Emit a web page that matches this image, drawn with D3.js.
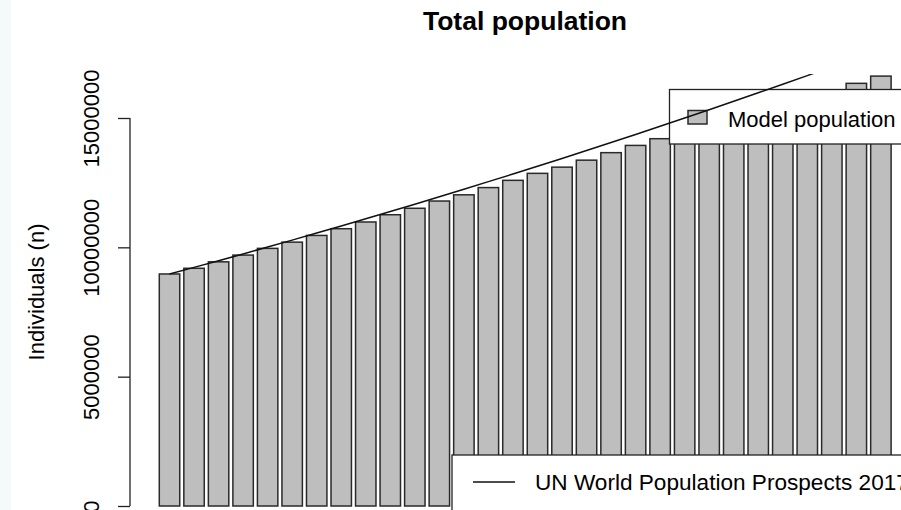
<!DOCTYPE html>
<html>
<head>
<meta charset="utf-8">
<script src="https://cdn.jsdelivr.net/npm/d3@7"></script>
<style>
  html, body { margin: 0; padding: 0; background: #ffffff; }
  svg { display: block; font-family: "Liberation Sans", Arial, Helvetica, sans-serif; }
</style>
</head>
<body>
<svg id="chart" width="901" height="510"></svg>
<script>
// Simulated total population per model year (individuals)
const years = d3.range(1, 31);
const modelPopulation = [
  8.97e6, 9.19e6, 9.44e6, 9.70e6, 9.96e6, 10.20e6, 10.46e6, 10.72e6, 10.98e6, 11.26e6,
  11.51e6, 11.79e6, 12.03e6, 12.31e6, 12.59e6, 12.86e6, 13.10e6, 13.37e6, 13.66e6, 13.94e6,
  14.20e6, 14.47e6, 14.74e6, 15.00e6, 15.27e6, 15.54e6, 15.81e6, 16.07e6, 16.34e6, 16.62e6
];
// UN World Population Prospects 2017 totals for the same years
const unYears = d3.range(1, 29);
const unPopulation = [
  8.97e6, 9.225e6, 9.484e6, 9.746e6, 10.011e6, 10.279e6, 10.551e6, 10.825e6, 11.103e6, 11.384e6,
  11.667e6, 11.955e6, 12.245e6, 12.539e6, 12.835e6, 13.135e6, 13.437e6, 13.744e6, 14.052e6, 14.365e6,
  14.680e6, 14.998e6, 15.320e6, 15.645e6, 15.973e6, 16.305e6, 16.639e6, 16.976e6
];
const yTicks = [0, 5e6, 10e6, 15e6];

const svg = d3.select("#chart");
const font = "'Liberation Sans', Arial, Helvetica, sans-serif";

// faint strip along the left edge of the page
svg.append("rect").attr("x", 0).attr("y", 0).attr("width", 11).attr("height", 510)
  .attr("fill", "#f4f9fa");

// plot region
const plotLeft = 130, plotRight = 920, plotTop = 74;
const pitch = 24.53;
const x = d3.scaleBand()
  .domain(years)
  .range([159.3, 159.3 + years.length * pitch - pitch / 6])
  .paddingInner(1 / 6)
  .paddingOuter(0);
const y = d3.scaleLinear().domain([0, 15e6]).range([506, 118]);

// title
svg.append("text")
  .attr("x", (plotLeft + plotRight) / 2).attr("y", 30)
  .attr("text-anchor", "middle")
  .attr("font-size", 26.5).attr("font-weight", "bold")
  .attr("font-family", font)
  .text("Total population");

// y axis
const yAxis = svg.append("g").attr("transform", `translate(${plotLeft},0)`)
  .call(d3.axisLeft(y).tickValues(yTicks).tickSize(12).tickFormat(d3.format("d")));
yAxis.select(".domain").attr("d", `M0,${y(15e6)}V${y(0)}`)
  .attr("stroke", "#222").attr("stroke-width", 1.3);
yAxis.selectAll(".tick line").attr("stroke", "#222").attr("stroke-width", 1.3);
yAxis.selectAll(".tick text")
  .attr("font-family", font).attr("font-size", 22).attr("fill", "#000")
  .attr("x", null).attr("dy", null)
  .attr("text-anchor", "middle")
  .attr("transform", "translate(-31,0) rotate(-90)");

// y axis title
svg.append("text")
  .attr("transform", `translate(44,292) rotate(-90)`)
  .attr("text-anchor", "middle")
  .attr("font-family", font).attr("font-size", 22)
  .text("Individuals (n)");

// bars
svg.append("g").selectAll("rect")
  .data(years)
  .join("rect")
  .attr("x", d => x(d))
  .attr("width", x.bandwidth())
  .attr("y", (d, i) => y(modelPopulation[i]))
  .attr("height", (d, i) => y(0) - y(modelPopulation[i]))
  .attr("fill", "#bebebe")
  .attr("stroke", "#2a2a2a")
  .attr("stroke-width", 1.5);

// legend: model population
const leg1 = svg.append("g");
leg1.append("rect").attr("x", 669.5).attr("y", 89.5).attr("width", 260).attr("height", 54.5)
  .attr("fill", "#fff").attr("stroke", "#222").attr("stroke-width", 1.3);
leg1.append("rect").attr("x", 688).attr("y", 110.5).attr("width", 19).attr("height", 13.5)
  .attr("fill", "#bebebe").attr("stroke", "#2a2a2a").attr("stroke-width", 1.5);
leg1.append("text").attr("x", 728).attr("y", 126.5)
  .attr("font-family", font).attr("font-size", 22)
  .text("Model population");

// UN line, clipped to the plot region
svg.append("clipPath").attr("id", "plotClip")
  .append("rect").attr("x", plotLeft).attr("y", plotTop)
  .attr("width", plotRight - plotLeft).attr("height", 510 - plotTop);
const line = d3.line()
  .x((d, i) => x(unYears[i]) + x.bandwidth() / 2)
  .y(d => y(d));
svg.append("path")
  .datum(unPopulation)
  .attr("clip-path", "url(#plotClip)")
  .attr("d", line)
  .attr("fill", "none")
  .attr("stroke", "#111")
  .attr("stroke-width", 1.5);

// legend: UN data
const leg2 = svg.append("g");
leg2.append("rect").attr("x", 452).attr("y", 455).attr("width", 480).attr("height", 80)
  .attr("fill", "#fff").attr("stroke", "#222").attr("stroke-width", 1.3);
leg2.append("line").attr("x1", 473).attr("x2", 515).attr("y1", 482).attr("y2", 482)
  .attr("stroke", "#111").attr("stroke-width", 1.5);
leg2.append("text").attr("x", 535).attr("y", 490)
  .attr("font-family", font).attr("font-size", 22.6)
  .text("UN World Population Prospects 2017");
</script>
</body>
</html>
